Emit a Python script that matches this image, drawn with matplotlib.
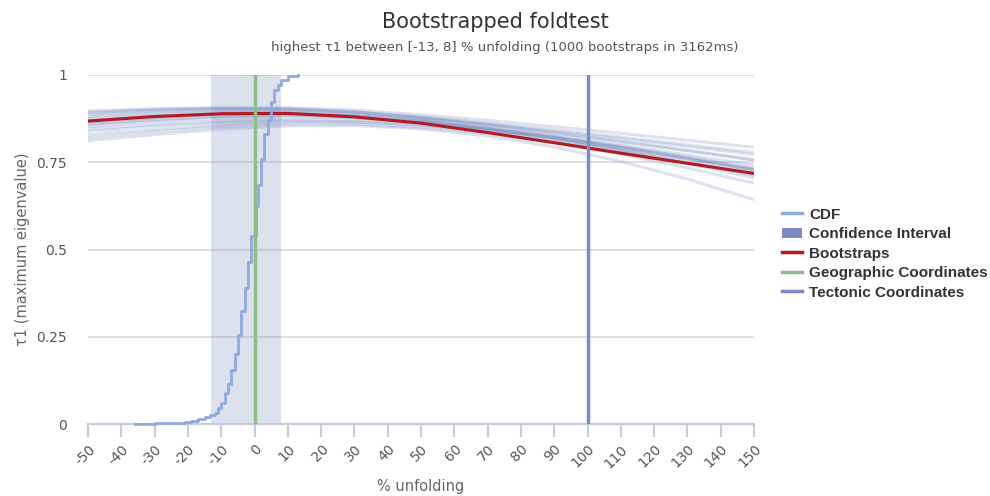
import matplotlib
matplotlib.use("Agg")
import matplotlib.pyplot as plt
from matplotlib.lines import Line2D
from matplotlib.patches import Patch

boot_x = [-50, -30, -10, 10, 30, 50, 70, 90, 110, 130, 150]

# mean bootstrap curve (red)
boot_mean = [0.868, 0.881, 0.889, 0.890, 0.880, 0.862, 0.835, 0.806, 0.776, 0.747, 0.718]

# a sample of individual bootstrap curves (faint)
boot_samples = [
    [0.897, 0.903, 0.906, 0.904, 0.895, 0.878, 0.860, 0.839, 0.818, 0.795, 0.772],
    [0.890, 0.899, 0.905, 0.906, 0.900, 0.886, 0.870, 0.852, 0.833, 0.813, 0.793],
    [0.885, 0.895, 0.901, 0.901, 0.894, 0.880, 0.862, 0.843, 0.822, 0.800, 0.778],
    [0.880, 0.891, 0.898, 0.898, 0.890, 0.876, 0.857, 0.834, 0.809, 0.783, 0.757],
    [0.875, 0.886, 0.894, 0.895, 0.888, 0.875, 0.853, 0.828, 0.800, 0.771, 0.742],
    [0.870, 0.882, 0.890, 0.892, 0.884, 0.870, 0.848, 0.822, 0.792, 0.761, 0.730],
    [0.865, 0.878, 0.888, 0.890, 0.883, 0.868, 0.845, 0.815, 0.783, 0.750, 0.716],
    [0.860, 0.873, 0.883, 0.886, 0.881, 0.868, 0.846, 0.820, 0.790, 0.759, 0.727],
    [0.852, 0.866, 0.876, 0.881, 0.878, 0.867, 0.848, 0.824, 0.796, 0.765, 0.733],
    [0.845, 0.858, 0.868, 0.873, 0.871, 0.862, 0.845, 0.822, 0.794, 0.763, 0.730],
    [0.838, 0.853, 0.864, 0.869, 0.866, 0.856, 0.838, 0.813, 0.783, 0.749, 0.712],
    [0.828, 0.844, 0.857, 0.865, 0.865, 0.857, 0.842, 0.820, 0.792, 0.760, 0.725],
    [0.820, 0.837, 0.852, 0.860, 0.859, 0.850, 0.832, 0.806, 0.773, 0.734, 0.690],
    [0.812, 0.829, 0.845, 0.854, 0.855, 0.846, 0.825, 0.794, 0.752, 0.702, 0.643],
    [0.893, 0.902, 0.905, 0.903, 0.894, 0.878, 0.858, 0.835, 0.810, 0.784, 0.756],
    [0.858, 0.871, 0.881, 0.884, 0.878, 0.866, 0.845, 0.818, 0.784, 0.746, 0.705],
]

# cumulative distribution of the unfolding percentage at max tau1
cdf_x = [-36, -30, -25, -21, -19, -17, -15, -13.5, -12, -11, -10, -9, -8, -7, -6, -5,
         -4, -3, -2, -1, 0.5, 1, 2, 3, 4, 5, 6, 7, 8, 10, 13]
cdf_y = [0.001, 0.002, 0.003, 0.006, 0.01, 0.014, 0.02, 0.026, 0.032, 0.045, 0.06, 0.09,
         0.115, 0.155, 0.2, 0.255, 0.325, 0.39, 0.465, 0.54, 0.625, 0.685, 0.76, 0.83,
         0.872, 0.923, 0.957, 0.97, 0.987, 0.996, 1.0]

ci_bounds = [-13, 8]
geographic_x = 0
tectonic_x = 100

x_ticks = list(range(-50, 151, 10))
y_ticks = [0, 0.25, 0.5, 0.75, 1]
y_tick_labels = ["0", "0.25", "0.5", "0.75", "1"]

C_CDF = "#8eaade"
C_CI = "#7b8bbd"
C_BOOT = "#b3191f"
C_GEO = "#8cbe88"
C_TEC = "#7a8cc6"
C_AXIS = "#c5cce0"

fig = plt.figure(figsize=(9.9, 4.96), dpi=100)
ax = fig.add_axes([88 / 990, 72 / 496, 666 / 990, 349 / 496])

ax.axvspan(ci_bounds[0], ci_bounds[1], color=C_CI, alpha=0.25, lw=0, zorder=1)

for ys in boot_samples:
    ax.plot(boot_x, ys, color="#7a8cc0", alpha=0.25, lw=2.2, zorder=2,
            solid_capstyle="butt")
ax.plot(boot_x, boot_mean, color=C_BOOT, lw=2.2, zorder=3)

ax.plot(cdf_x, cdf_y, drawstyle="steps-post", color=C_CDF, lw=2, zorder=4,
        clip_on=False)
ax.axvline(geographic_x, color=C_GEO, lw=2.5, zorder=5)
ax.axvline(tectonic_x, color=C_TEC, lw=2.5, zorder=5)

ax.set_xlim(-50, 150)
ax.set_ylim(0, 1)
ax.set_xticks(x_ticks)
ax.set_xticklabels([str(t) for t in x_ticks], rotation=45, ha="right",
                   rotation_mode="anchor")
ax.set_yticks(y_ticks)
ax.set_yticklabels(y_tick_labels)
ax.yaxis.grid(True, color="#d9d9d9", lw=1.2)
ax.set_axisbelow(True)

for side in ["top", "right", "left"]:
    ax.spines[side].set_visible(False)
ax.spines["bottom"].set_color(C_AXIS)
ax.spines["bottom"].set_linewidth(1.5)
ax.tick_params(axis="x", colors=C_AXIS, length=9, width=1.5, labelcolor="#555555",
               labelsize=10, pad=4)
ax.tick_params(axis="y", length=0, labelcolor="#555555", labelsize=10, pad=15)

ax.set_xlabel("% unfolding", color="#666666", fontsize=10.5, labelpad=6)
ax.set_ylabel("τ1 (maximum eigenvalue)", color="#666666", fontsize=10.5, labelpad=5)

fig.text(0.5, 0.955, "Bootstrapped foldtest", ha="center", va="center",
         fontsize=15, color="#333333")
fig.text(0.51, 0.905, "highest τ1 between [-13, 8] % unfolding (1000 bootstraps in 3162ms)",
         ha="center", va="center", fontsize=9.5, color="#555555")

handles = [
    Line2D([], [], color=C_CDF, lw=2.5),
    Patch(facecolor=C_CI, edgecolor="none"),
    Line2D([], [], color=C_BOOT, lw=2.5),
    Line2D([], [], color=C_GEO, lw=2.5),
    Line2D([], [], color=C_TEC, lw=2.5),
]
labels = ["CDF", "Confidence Interval", "Bootstraps", "Geographic Coordinates",
          "Tectonic Coordinates"]
fig.legend(handles, labels, loc="upper left", bbox_to_anchor=(768 / 990, 1 - 194 / 496),
           frameon=False, prop={"family": "Liberation Sans", "weight": "bold", "size": 11},
           labelcolor="#333333", handlelength=1.3, handletextpad=0.5, labelspacing=0.36)

fig.savefig("out.png", dpi=100)
